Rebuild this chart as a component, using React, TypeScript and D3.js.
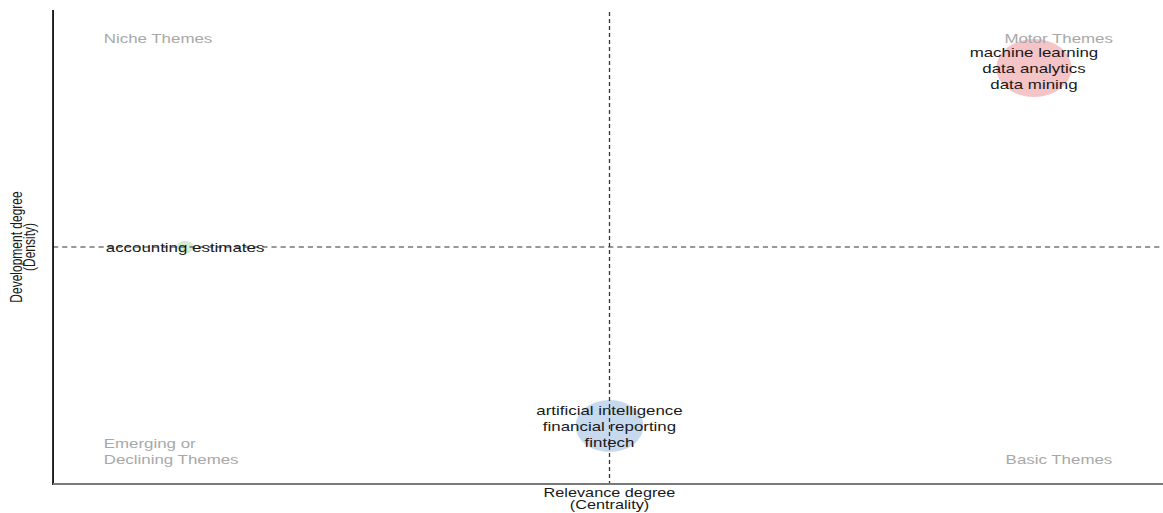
import React from "react";
import * as d3 from "d3";

// ---- data ----
const clusterLabels: string[][] = [
  ["machine learning", "data analytics", "data mining"],
  ["artificial intelligence", "financial reporting", "fintech"],
  ["accounting estimates"],
];
const centrality: number[] = [0.85, 0.45, 0.05];
const density: number[] = [1.2, 0.2, 0.7];
const frequency: number[] = [42, 34, 2];
const bubbleColors: string[] = ["#f4c4c7", "#c6d9ee", "#d3ebcf"];
const quadrantNames = {
  niche: ["Niche Themes"],
  motor: ["Motor Themes"],
  emerging: ["Emerging or", "Declining Themes"],
  basic: ["Basic Themes"],
};
const xTitle = ["Relevance degree", "(Centrality)"];
const yTitle = ["Development degree", "(Density)"];

// ---- layout ----
const W = 1163;
const H = 513;
const SX = 1.3; // horizontal stretch of the picture
const VW = W / SX;
const plot = { left: 40.8, right: VW, top: 10, bottom: 484 };
const FONT = "'Liberation Sans', Arial, Helvetica, sans-serif";

export default function App() {
  const [x0, x1] = d3.extent(centrality) as [number, number];
  const [y0, y1] = d3.extent(density) as [number, number];
  const pxL = 0.1555 * (x1 - x0);
  const pxR = 0.152 * (x1 - x0);
  const py = 0.162 * (y1 - y0);
  const x = d3.scaleLinear().domain([x0 - pxL, x1 + pxR]).range([plot.left, plot.right]);
  const y = d3.scaleLinear().domain([y0 - py, y1 + py]).range([plot.bottom, plot.top]);
  const r = d3.scaleSqrt().domain([0, d3.max(frequency) as number]).range([0, 29]);
  const mx = d3.mean(centrality) as number;
  const my = d3.mean(density) as number;
  const lh = 16;

  return (
    <svg
      width={W}
      height={H}
      viewBox={`0 0 ${VW} ${H}`}
      preserveAspectRatio="none"
      style={{ position: "absolute", left: 0, top: 0, background: "#fff" }}
      fontFamily={FONT}
    >
      {/* bubbles */}
      {centrality.map((c, i) => (
        <circle key={"b" + i} cx={x(c)} cy={y(density[i])} r={r(frequency[i])} fill={bubbleColors[i]} />
      ))}
      {/* mean lines */}
      <line x1={x(mx)} x2={x(mx)} y1={plot.top + 2} y2={plot.bottom} stroke="#333" strokeWidth={1} strokeDasharray="4,3" />
      <line x1={plot.left} x2={plot.right} y1={y(my)} y2={y(my)} stroke="#333" strokeWidth={1} strokeDasharray="4,3" />
      {/* axes */}
      <line x1={plot.left} x2={plot.left} y1={plot.top} y2={plot.bottom + 1} stroke="#111" strokeWidth={1.4} />
      <line x1={plot.left} x2={plot.right} y1={plot.bottom} y2={plot.bottom} stroke="#7a7a7a" strokeWidth={2} />
      {/* cluster labels */}
      {clusterLabels.map((lines, i) =>
        lines.map((t, j) => (
          <text
            key={"l" + i + "-" + j}
            x={x(centrality[i])}
            y={y(density[i]) + (j - (lines.length - 1) / 2) * lh}
            dy="0.35em"
            textAnchor="middle"
            fontSize={13}
            fill="#1a1a1a"
          >
            {t}
          </text>
        ))
      )}
      {/* quadrant names */}
      {quadrantNames.niche.map((t, j) => (
        <text key={"n" + j} x={plot.left + 39} y={38 + j * lh} dy="0.35em" fontSize={13} fill="#a8a8a8">{t}</text>
      ))}
      {quadrantNames.motor.map((t, j) => (
        <text key={"m" + j} x={plot.right - 38.5} y={38 + j * lh} dy="0.35em" textAnchor="end" fontSize={13} fill="#a8a8a8">{t}</text>
      ))}
      {quadrantNames.emerging.map((t, j) => (
        <text key={"e" + j} x={plot.left + 39} y={443 + j * lh} dy="0.35em" fontSize={13} fill="#a8a8a8">{t}</text>
      ))}
      {quadrantNames.basic.map((t, j) => (
        <text key={"s" + j} x={plot.right - 39} y={459 + j * lh} dy="0.35em" textAnchor="end" fontSize={13} fill="#a8a8a8">{t}</text>
      ))}
      {/* axis titles */}
      {xTitle.map((t, j) => (
        <text key={"xt" + j} x={x(mx)} y={493 + j * 12} dy="0.35em" textAnchor="middle" fontSize={12.5} fill="#1a1a1a">{t}</text>
      ))}
      {yTitle.map((t, j) => (
        <text
          key={"yt" + j}
          transform={`translate(${13 + j * 10},${247}) rotate(-90)`}
          dy="0.35em"
          textAnchor="middle"
          fontSize={12}
          fill="#1a1a1a"
        >
          {t}
        </text>
      ))}
    </svg>
  );
}
